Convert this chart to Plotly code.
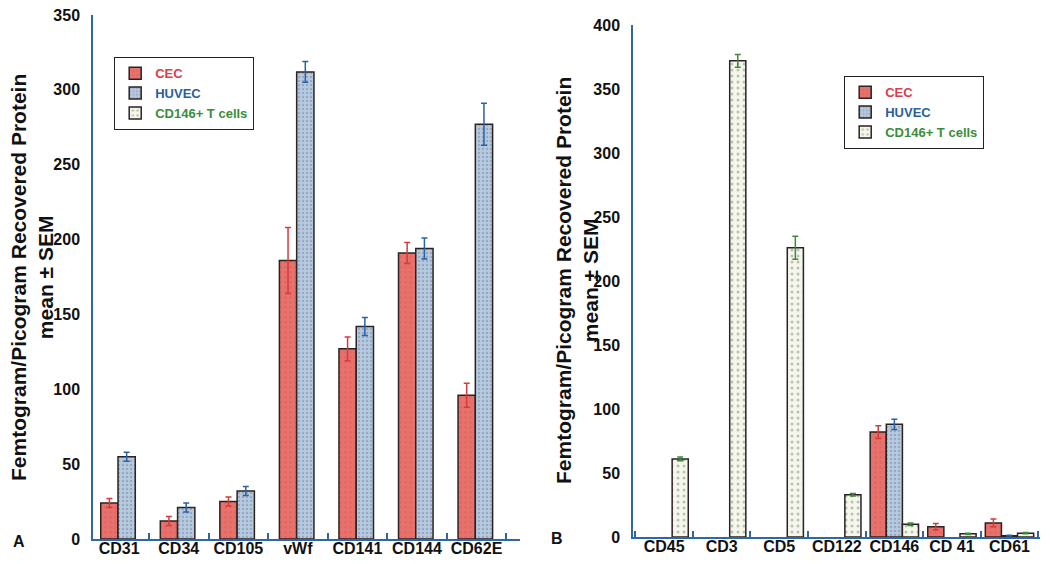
import plotly.graph_objects as go

# ---------- data ----------
cats_a = ["CD31", "CD34", "CD105", "vWf", "CD141", "CD144", "CD62E"]
cec_a = [24, 12, 25, 186, 127, 191, 96]
cec_a_err = [3, 3, 3, 22, 8, 7, 8]
huvec_a = [55, 21, 32, 312, 142, 194, 277]
huvec_a_err = [3, 3, 3, 7, 6, 7, 14]

cats_b = ["CD45", "CD3", "CD5", "CD122", "CD146", "CD 41", "CD61"]
cec_b = [None, None, None, None, 82, 8, 11]
cec_b_err = [0, 0, 0, 0, 5, 2.5, 3]
huvec_b = [None, None, None, None, 88, None, 1]
huvec_b_err = [0, 0, 0, 0, 4, 0, 0.3]
tcell_b = [61, 372, 226, 33, 10, 2.5, 3]
tcell_b_err = [1.5, 5, 9, 1, 1, 0.5, 0.5]

y_ticks_a = [0, 50, 100, 150, 200, 250, 300, 350]
y_ticks_b = [0, 50, 100, 150, 200, 250, 300, 350, 400]

# ---------- styles ----------
RED = "#e8716c"
RED_ERR = "#d23c3c"
BLUE_ERR = "#2a62a4"
GREEN = "#3d8a3a"
OUT = "#2b2222"
AXIS = "#2f67a6"
FAM = "Liberation Sans, Arial, sans-serif"
W = 1050
H = 564

cec_marker = dict(color=RED, line=dict(color=OUT, width=1.5),
                  pattern=dict(shape=".", fgcolor="#d95f5c", bgcolor=RED, size=5, solidity=0.25))
huvec_marker = dict(color="#b2c4da", line=dict(color=OUT, width=1.5),
                    pattern=dict(shape=".", fgcolor="#6f89ab", bgcolor="#b8c9dd", size=4, solidity=0.3))
tcell_marker = dict(color="#f3f5e8", line=dict(color=OUT, width=1.5),
                    pattern=dict(shape=".", fgcolor="#7d8c74", bgcolor="#f5f7ec", size=6, solidity=0.2))

n_cec = "<span style='color:#d9404a'>CEC</span>"
n_huv = "<span style='color:#2a5fa0'>HUVEC</span>"
n_tc = "<span style='color:#3a8d3a'>CD146+ T cells</span>"

def err(vals, color):
    return dict(type="data", array=vals, visible=True, color=color, thickness=1.5, width=3)

fig = go.Figure()

# Panel A
fig.add_trace(go.Bar(x=cats_a, y=cec_a, name=n_cec, marker=cec_marker, width=0.29, offset=-0.31,
                     error_y=err(cec_a_err, RED_ERR), xaxis="x", yaxis="y", legend="legend"))
fig.add_trace(go.Bar(x=cats_a, y=huvec_a, name=n_huv, marker=huvec_marker, width=0.29, offset=-0.02,
                     error_y=err(huvec_a_err, BLUE_ERR), xaxis="x", yaxis="y", legend="legend"))
fig.add_trace(go.Bar(x=cats_a, y=[None] * len(cats_a), name=n_tc, marker=tcell_marker, width=0.29, offset=0.27,
                     xaxis="x", yaxis="y", legend="legend"))

# Panel B
fig.add_trace(go.Bar(x=cats_b, y=cec_b, name=n_cec, marker=cec_marker, width=0.28, offset=-0.42,
                     error_y=err(cec_b_err, RED_ERR), xaxis="x2", yaxis="y2", legend="legend2"))
fig.add_trace(go.Bar(x=cats_b, y=huvec_b, name=n_huv, marker=huvec_marker, width=0.28, offset=-0.14,
                     error_y=err(huvec_b_err, BLUE_ERR), xaxis="x2", yaxis="y2", legend="legend2"))
fig.add_trace(go.Bar(x=cats_b, y=tcell_b, name=n_tc, marker=tcell_marker, width=0.28, offset=0.14,
                     error_y=err(tcell_b_err, GREEN), xaxis="x2", yaxis="y2", legend="legend2"))

tickfont = dict(family=FAM, size=16, color="#111111", weight="bold")
xcommon = dict(type="category", showline=True, linecolor=AXIS, linewidth=1.5, ticks="inside",
               tickson="boundaries", ticklen=6, tickcolor=AXIS, tickwidth=1.5, showgrid=False,
               zeroline=False, tickfont=tickfont, automargin=False, fixedrange=True,
               ticklabelstandoff=-6, tickangle=0)
ycommon = dict(showline=True, linecolor=AXIS, linewidth=1.5, ticks="", showgrid=False, zeroline=False,
               tickfont=tickfont, automargin=False, ticklabelstandoff=8, fixedrange=True)

legfont = dict(family=FAM, size=13, weight="bold")
fig.update_layout(
    width=W, height=H,
    margin=dict(l=0, r=0, t=0, b=0),
    paper_bgcolor="white", plot_bgcolor="white",
    barmode="overlay",
    font=dict(family=FAM, color="#111111"),
    xaxis=dict(xcommon, domain=[93 / W, 520 / W], range=[-0.44, 6.73], anchor="y"),
    yaxis=dict(ycommon, domain=[1 - 539 / H, 1 - 15 / H], range=[0, 350], tickvals=y_ticks_a, anchor="x"),
    xaxis2=dict(xcommon, domain=[633 / W, 1040 / W], range=[-0.54, 6.53], anchor="y2"),
    yaxis2=dict(ycommon, domain=[1 - 537 / H, 1 - 25 / H], range=[0, 400], tickvals=y_ticks_b, anchor="x2"),
    legend=dict(x=114 / W, y=1 - 57 / H, xanchor="left", yanchor="top", bgcolor="white",
                bordercolor="#222222", borderwidth=1.2, font=legfont, tracegroupgap=0, itemwidth=30),
    legend2=dict(x=844 / W, y=1 - 76 / H, xanchor="left", yanchor="top", bgcolor="white",
                 bordercolor="#222222", borderwidth=1.2, font=legfont, tracegroupgap=0, itemwidth=30),
    showlegend=True,
)

title_txt = "<b>Femtogram/Picogram Recovered Protein<br>mean ± SEM</b>"
for xp, yp in [(32, 278), (577, 281)]:
    fig.add_annotation(x=xp / W, y=1 - yp / H, xref="paper", yref="paper", text=title_txt,
                       textangle=-90, showarrow=False, align="center", xanchor="center", yanchor="middle",
                       font=dict(family=FAM, size=21, color="#111111"))

for lbl, xp, yp in [("A", 19, 541), ("B", 557, 538)]:
    fig.add_annotation(x=xp / W, y=1 - yp / H, xref="paper", yref="paper", text="<b>%s</b>" % lbl,
                       showarrow=False, xanchor="center", yanchor="middle",
                       font=dict(family=FAM, size=16, color="#111111"))

fig.write_html("out.html", config={"displayModeBar": False},
               post_script="document.body.style.margin='0';document.body.style.padding='0';")
